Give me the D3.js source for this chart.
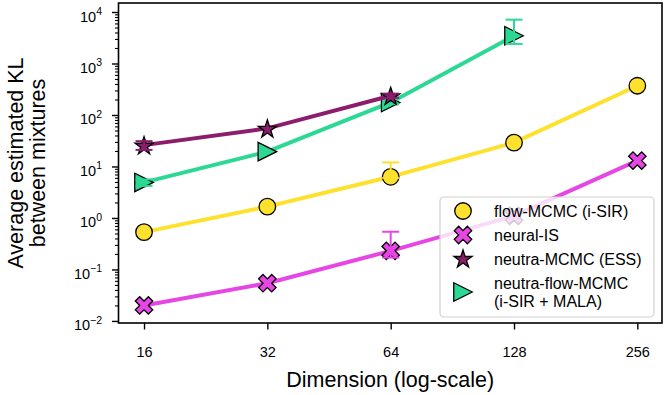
<!DOCTYPE html>
<html>
<head>
<meta charset="utf-8">
<script src="https://cdn.jsdelivr.net/npm/d3@7"></script>
<style>
  body { margin: 0; background: #fff; }
  svg { display: block; font-family: "Liberation Sans", Arial, sans-serif; }
</style>
</head>
<body>
<div id="chart"></div>
<script>
// dimensions on the x axis
const dims = [16, 32, 64, 128, 256];

// average estimated KL (null = not run)
const flowMCMC      = [0.53, 1.66, 6.3, 29, 370];
const neuralIS      = [0.020, 0.054, 0.23, 1.1, 13];
const neutraMCMC    = [26, 55, 236, null, null];
const neutraFlow    = [4.9, 19.4, 175, 3460, null];

// error bar ends where visible
const flowMCMCLo    = [null, null, 6.0, null, null];
const flowMCMCHi    = [null, null, 12, null, null];
const neuralISLo    = [null, null, 0.17, null, null];
const neuralISHi    = [null, null, 0.54, null, null];
const neutraMCMCLo  = [21, null, 215, null, null];
const neutraMCMCHi  = [31, null, 260, null, null];
const neutraFlowLo  = [4.2, null, 164, 2400, null];
const neutraFlowHi  = [5.6, null, 200, 7100, null];

const yTicks = [1e-2, 1e-1, 1e0, 1e1, 1e2, 1e3, 1e4];
const yExps  = ["\u22122", "\u22121", "0", "1", "2", "3", "4"];

const W = 665, H = 395;
const plot = {left: 118.5, right: 662, top: 3, bottom: 323};

const svg = d3.select("#chart").append("svg")
    .attr("width", W)
    .attr("height", H);

const x = d3.scaleLog().base(2)
    .domain([16 / Math.pow(2, 0.207), 256 * Math.pow(2, 0.2)])
    .range([plot.left, plot.right]);

const y = d3.scaleLog()
    .domain([Math.pow(10, -2.04), Math.pow(10, 4.175)])
    .range([plot.bottom, plot.top]);

// minor y ticks
const minors = [];
for (let e = -3; e <= 4; e++) {
  for (let m = 2; m <= 9; m++) {
    const v = m * Math.pow(10, e);
    if (v >= y.domain()[0] && v <= y.domain()[1]) minors.push(v);
  }
}

const gyMinor = svg.append("g")
    .attr("transform", "translate(" + plot.left + ",0)")
    .call(d3.axisLeft(y).tickValues(minors).tickFormat("").tickSize(3.5));
gyMinor.select(".domain").remove();
gyMinor.selectAll("line").attr("stroke-width", 1.1);

const gy = svg.append("g")
    .attr("transform", "translate(" + plot.left + ",0)")
    .call(d3.axisLeft(y).tickValues(yTicks).tickSize(6.5).tickPadding(4));
gy.select(".domain").remove();
gy.selectAll("line").attr("stroke-width", 1.4);
gy.selectAll("text")
    .attr("x", -16.5)
    .attr("dy", null)
    .attr("y", 9)
    .attr("font-size", 14.5)
    .attr("font-family", "Liberation Sans, Arial, sans-serif")
    .attr("fill", "#000")
    .text(null)
    .each(function(d, i) {
      const t = d3.select(this);
      t.append("tspan").text("10");
      t.append("tspan").attr("dy", -6.5).attr("font-size", 10.5).text(yExps[i]);
    });

const gx = svg.append("g")
    .attr("transform", "translate(0," + plot.bottom + ")")
    .call(d3.axisBottom(x).tickValues(dims).tickFormat(d3.format("d")).tickSize(6.5).tickPadding(0));
gx.select(".domain").remove();
gx.selectAll("line").attr("stroke-width", 1.4);
gx.selectAll("text")
    .attr("dy", null)
    .attr("y", 34)
    .attr("font-size", 14.5)
    .attr("font-family", "Liberation Sans, Arial, sans-serif")
    .attr("fill", "#000");

// axis labels
svg.append("text")
    .attr("x", (plot.left + plot.right) / 2)
    .attr("y", 386.5)
    .attr("text-anchor", "middle")
    .attr("font-size", 21.5)
    .text("Dimension (log-scale)");

const yl = svg.append("text")
    .attr("transform", "translate(0," + (plot.top + plot.bottom) / 2 + ") rotate(-90)")
    .attr("text-anchor", "middle")
    .attr("font-size", 21.5);
yl.append("tspan").attr("x", 0).attr("y", 22.5).text("Average estimated KL");
yl.append("tspan").attr("x", 0).attr("y", 45).text("between mixtures");

// marker shapes
function xFilled(s) {
  const pts = [[-1,-3],[1,-3],[1,-1],[3,-1],[3,1],[1,1],[1,3],[-1,3],[-1,1],[-3,1],[-3,-1],[-1,-1]];
  const c = Math.SQRT1_2;
  return "M" + pts.map(p => {
    const px = p[0] / 6 * s, py = p[1] / 6 * s;
    return [(px - py) * c, (px + py) * c].join(",");
  }).join("L") + "Z";
}
function triRight(s) {
  const h = s / 2;
  return "M" + h + ",0L" + (-h) + "," + (-h) + "L" + (-h) + "," + h + "Z";
}
function star(s) {
  const R = s / 2, r = R * 0.381966, pts = [];
  for (let k = 0; k < 10; k++) {
    const a = -Math.PI / 2 + k * Math.PI / 5;
    const rr = k % 2 === 0 ? R : r;
    pts.push([rr * Math.cos(a), rr * Math.sin(a) + R * 0.1]);
  }
  return "M" + pts.map(p => p.join(",")).join("L") + "Z";
}
function circ(s) {
  return d3.symbol().type(d3.symbolCircle).size(Math.PI * s * s / 4)();
}

const series = [
  {name: "flow-MCMC (i-SIR)", vals: flowMCMC, lo: flowMCMCLo, hi: flowMCMCHi, color: "#fde12d", shape: () => circ(16.5)},
  {name: "neural-IS", vals: neuralIS, lo: neuralISLo, hi: neuralISHi, color: "#e546e4", shape: () => xFilled(18.5)},
  {name: "neutra-flow-MCMC|(i-SIR + MALA)", vals: neutraFlow, lo: neutraFlowLo, hi: neutraFlowHi, color: "#2bd894", shape: () => triRight(18.5)},
  {name: "neutra-MCMC (ESS)", vals: neutraMCMC, lo: neutraMCMCLo, hi: neutraMCMCHi, color: "#8c1d6c", shape: () => star(19)}
];

const line = d3.line()
    .defined(d => d.v != null)
    .x(d => x(d.dim))
    .y(d => y(d.v));

series.forEach(s => {
  const pts = dims.map((dim, i) => ({dim: dim, v: s.vals[i], lo: s.lo[i], hi: s.hi[i]}));
  const g = svg.append("g");
  g.append("path")
      .datum(pts)
      .attr("fill", "none")
      .attr("stroke", s.color)
      .attr("stroke-width", 4)
      .attr("d", line);
  g.selectAll("path.mk")
      .data(pts.filter(d => d.v != null))
      .join("path")
      .attr("class", "mk")
      .attr("transform", d => "translate(" + x(d.dim) + "," + y(d.v) + ")")
      .attr("d", s.shape())
      .attr("fill", s.color)
      .attr("stroke", "#000")
      .attr("stroke-width", 1.3);
  const eb = pts.filter(d => d.lo != null);
  g.selectAll("line.bar")
      .data(eb)
      .join("line")
      .attr("x1", d => x(d.dim)).attr("x2", d => x(d.dim))
      .attr("y1", d => y(d.lo)).attr("y2", d => y(d.hi))
      .attr("stroke", s.color).attr("stroke-width", 2);
  const caps = [];
  eb.forEach(d => { caps.push({dim: d.dim, v: d.lo}); caps.push({dim: d.dim, v: d.hi}); });
  g.selectAll("line.cap")
      .data(caps)
      .join("line")
      .attr("x1", d => x(d.dim) - 8.5).attr("x2", d => x(d.dim) + 8.5)
      .attr("y1", d => y(d.v)).attr("y2", d => y(d.v))
      .attr("stroke", s.color).attr("stroke-width", 2);
});

// frame
svg.append("rect")
    .attr("x", plot.left).attr("y", plot.top)
    .attr("width", plot.right - plot.left)
    .attr("height", plot.bottom - plot.top)
    .attr("fill", "none")
    .attr("stroke", "#000")
    .attr("stroke-width", 1.6);

// legend
const legendOrder = [0, 1, 3, 2];
const rowY = [211, 235, 258.5, 292];
const leg = svg.append("g");
leg.append("rect")
    .attr("x", 440).attr("y", 197)
    .attr("width", 214).attr("height", 120)
    .attr("rx", 4)
    .attr("fill", "#fff").attr("fill-opacity", 0.8)
    .attr("stroke", "#d0d0d0").attr("stroke-width", 1.2);
legendOrder.forEach((si, r) => {
  const s = series[si];
  leg.append("path")
      .attr("transform", "translate(463," + rowY[r] + ")")
      .attr("d", s.shape())
      .attr("fill", s.color)
      .attr("stroke", "#000")
      .attr("stroke-width", 1.3);
  const lines = s.name.split("|");
  const t = leg.append("text").attr("font-size", 16);
  lines.forEach((ln, k) => {
    t.append("tspan")
        .attr("x", 494)
        .attr("y", rowY[r] + 6 + (k - (lines.length - 1) / 2) * 17.5)
        .text(ln);
  });
});
</script>
</body>
</html>
